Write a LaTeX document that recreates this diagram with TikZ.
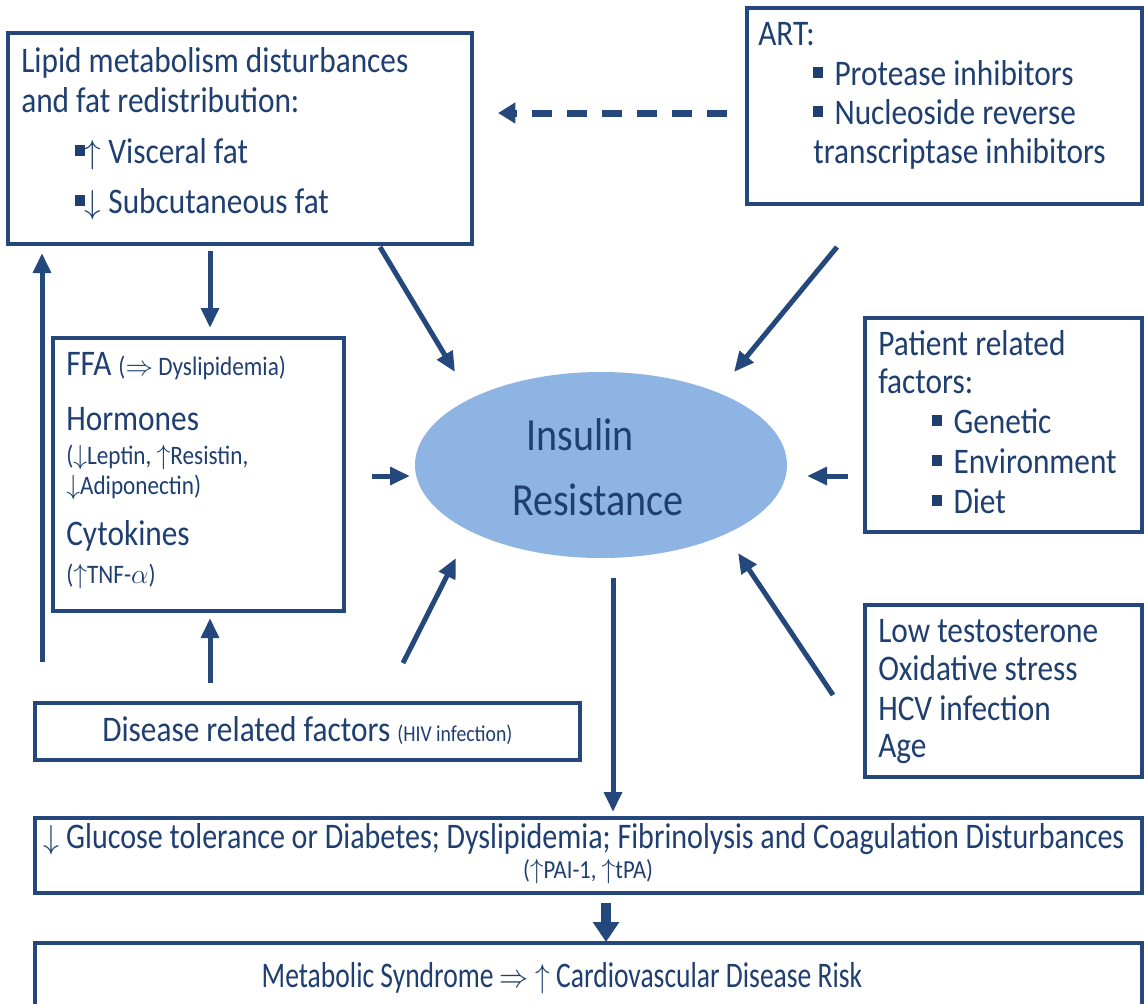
\documentclass[tikz,border=0pt]{standalone}
\usepackage{fontspec}
\setmainfont{Carlito}[FakeStretch=0.87]
\usetikzlibrary{arrows.meta,fit,shapes.geometric}
\definecolor{dblue}{RGB}{36,72,124}
\definecolor{tblue}{RGB}{31,63,112}
\definecolor{lblue}{RGB}{142,180,227}
\newcommand\sqb{\rule[0.2em]{0.26em}{0.3em}}
\newcommand\myup{$\uparrow$}
\newcommand\mydn{$\downarrow$}
\newcommand\myRa{$\Rightarrow$}
\newcommand\fsz[1]{\fontsize{#1}{#1}\selectfont}
\begin{document}
\begin{tikzpicture}[x=0.75pt,y=-0.75pt,
  box/.style={draw=dblue,line width=3pt,inner sep=0pt},
  txt/.style={anchor=base west,inner sep=0pt,text=tblue,font=\fsz{27}},
  smalltxt/.style={txt,font=\fsz{20}},
  arr/.style={draw=dblue,line width=3.75pt,-{Triangle[width=13pt,length=15pt]}},
  bigarr/.style={draw=dblue,line width=7.5pt,-{Triangle[width=19pt,length=15pt]}},
  dasharr/.style={draw=dblue,line width=5.25pt,dash pattern=on 15pt off 11.25pt,-{Triangle[width=15pt,length=13pt]}}
]
\useasboundingbox (0,0) rectangle (1144,1003);
\clip (0,0) rectangle (1144,1003);
\fill[white] (0,0) rectangle (1144,1003);
% boxes
\node[box,fit={(8,33)(472,244)}] (lipid) {};
\node[box,fit={(747,8)(1142,204)}] (art) {};
\node[box,fit={(53,338)(344,611)}] (ffa) {};
\node[box,fit={(865,318)(1142,532)}] (pat) {};
\node[box,fit={(865,605)(1142,777)}] (low) {};
\node[box,fit={(35,703)(580,760)}] (dis) {};
\node[box,fit={(35,818)(1142,893)}] (glu) {};
\node[box,fit={(35,943)(1142,1030)}] (met) {};
\node[ellipse,fill=lblue,inner sep=0pt,minimum width=279pt,minimum height=139.5pt] (ir) at (601,465) {};
% texts
\node[txt] (l1) at (21,72) {Lipid metabolism disturbances};
\node[txt] (l2) at (21,112) {and fat redistribution:};
\node[txt] (l3) at (75,163) {\sqb\myup\hspace{0.2em}Visceral fat};
\node[txt] (l4) at (75,213) {\sqb\mydn\hspace{0.2em}Subcutaneous fat};
\node[txt] (a1) at (758,45) {ART:};
\node[txt] (a2) at (813,85) {\sqb\hspace{0.33em}Protease inhibitors};
\node[txt] (a3) at (813,124) {\sqb\hspace{0.33em}Nucleoside reverse};
\node[txt] (a4) at (813,163) {transcriptase inhibitors};
\node[txt] (f1) at (66,375) {FFA {\fsz{20}(\myRa\ Dyslipidemia)}};
\node[txt] (f2) at (66,430) {Hormones};
\node[smalltxt] (f3) at (66,464) {(\mydn Leptin, \myup Resistin,};
\node[smalltxt] (f4) at (66,494) {\mydn Adiponectin)};
\node[txt] (f5) at (66,545) {Cytokines};
\node[smalltxt] (f6) at (66,583) {(\myup TNF-$\alpha$)};
\node[txt] (p1) at (878,355) {Patient related};
\node[txt] (p2) at (878,393) {factors:};
\node[txt] (p3) at (932,433) {\sqb\hspace{0.33em}Genetic};
\node[txt] (p4) at (932,473) {\sqb\hspace{0.33em}Environment};
\node[txt] (p5) at (932,513) {\sqb\hspace{0.33em}Diet};
\node[txt] (o1) at (878,642) {Low testosterone};
\node[txt] (o2) at (878,680) {Oxidative stress};
\node[txt] (o3) at (878,720) {HCV infection};
\node[txt] (o4) at (878,757) {Age};
\node[txt] (d1) at (102,741) {Disease related factors {\fsz{17}(HIV infection)}};
\node[txt,anchor=base] (g1) at (584,848) {\scalebox{0.96}[1]{\mydn\ Glucose tolerance or Diabetes; Dyslipidemia; Fibrinolysis and Coagulation Disturbances}};
\node[txt,anchor=base,font=\fsz{19.5}] (g2) at (588,878) {(\myup PAI-1, \myup tPA)};
\node[txt,anchor=base] (m1) at (562,987) {\scalebox{0.88}[1]{Metabolic Syndrome \myRa\ \myup\ Cardiovascular Disease Risk}};
\node[txt,font=\fsz{34.5}] (i1) at (526,450) {Insulin};
\node[txt,font=\fsz{34.5}] (i2) at (512,515) {Resistance};
% connector end points
\coordinate (c1s) at (727,113); \coordinate (c1e) at (498,113);
\coordinate (c2s) at (210,251); \coordinate (c2e) at (210,328);
\coordinate (c3s) at (42,662);  \coordinate (c3e) at (42,253);
\coordinate (c4s) at (210,683); \coordinate (c4e) at (210,618);
\coordinate (c5s) at (380,247); \coordinate (c5e) at (455,372);
\coordinate (c6s) at (837,247); \coordinate (c6e) at (734,372);
\coordinate (c7s) at (372,476); \coordinate (c7e) at (410,476);
\coordinate (c8s) at (848,476); \coordinate (c8e) at (807,476);
\coordinate (c9s) at (403,663); \coordinate (c9e) at (456,558);
\coordinate (c10s) at (833,695); \coordinate (c10e) at (738,553);
\coordinate (c11s) at (613,578); \coordinate (c11e) at (613,812);
\coordinate (c12s) at (606,903); \coordinate (c12e) at (606,942);
% connectors
\draw[dasharr] (c1s) -- (c1e);
\draw[arr] (c2s) -- (c2e);
\draw[arr] (c3s) -- (c3e);
\draw[arr] (c4s) -- (c4e);
\draw[arr] (c5s) -- (c5e);
\draw[arr] (c6s) -- (c6e);
\draw[arr] (c7s) -- (c7e);
\draw[arr] (c8s) -- (c8e);
\draw[arr] (c9s) -- (c9e);
\draw[arr] (c10s) -- (c10e);
\draw[arr] (c11s) -- (c11e);
\draw[bigarr] (c12s) -- (c12e);
\end{tikzpicture}
\end{document}
